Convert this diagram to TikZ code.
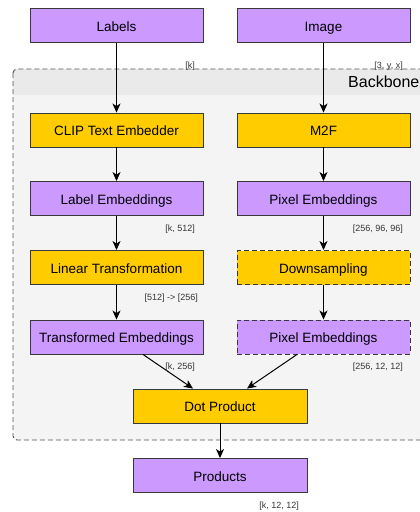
\documentclass[tikz,border=0pt]{standalone}
\usepackage{fontspec}
\setmainfont{Liberation Sans}
\usetikzlibrary{arrows.meta}
\definecolor{purp}{HTML}{CC99FF}
\definecolor{gold}{HTML}{FFCC00}
\definecolor{edge}{HTML}{36393D}
\definecolor{bgray}{HTML}{F4F4F4}
\definecolor{hgray}{HTML}{EAEAEA}
\definecolor{dgray}{HTML}{505050}
\definecolor{lbl}{HTML}{333333}
\tikzset{
  box/.style={draw=edge, line width=0.9pt, minimum width=173pt, minimum height=34pt, inner sep=0pt, text height=11pt, text depth=0pt, font=\fontsize{13.5}{15}\selectfont, text=black},
  pbox/.style={box, fill=purp},
  ybox/.style={box, fill=gold},
  dbox/.style={dash pattern=on 5pt off 3pt},
  dim/.style={font=\fontsize{9}{10}\selectfont, text=lbl, anchor=east, inner sep=0pt},
  conn/.style={line width=1pt, -{Stealth[length=9pt, width=8pt, inset=2.5pt]}},
}
\begin{document}
\begin{tikzpicture}[x=1pt, y=-1pt]
\useasboundingbox (0,0) rectangle (420,512);
\clip (0,0) rectangle (420,512);
% container
\fill[bgray, rounded corners=4pt] (13,69) rectangle (440,440);
\begin{scope}
\clip[rounded corners=4pt] (13,69) rectangle (440,440);
\fill[hgray] (13,69) rectangle (440,95);
\end{scope}
\draw[dgray, line width=0.9pt, dash pattern=on 5pt off 3pt, rounded corners=4pt] (13,69) rectangle (440,440);
\node[anchor=west, inner sep=0pt, font=\fontsize{16}{18}\selectfont, text=black] (bb) at (348,82) {Backbone};
% nodes
\node[pbox] (labels) at (116.5,25.5) {Labels};
\node[pbox] (image) at (323.5,25.5) {Image};
\node[ybox] (clip) at (116.5,130) {CLIP Text Embedder};
\node[ybox] (m2f) at (323.5,130) {M2F};
\node[pbox] (labemb) at (116.5,198.5) {Label Embeddings};
\node[pbox] (pixemb) at (323.5,198.5) {Pixel Embeddings};
\node[ybox] (lin) at (116.5,267.5) {Linear Transformation};
\node[ybox, dbox] (down) at (323.5,267.5) {Downsampling};
\node[pbox] (trans) at (116.5,337) {Transformed Embeddings};
\node[pbox, dbox] (pixemb2) at (323.5,337) {Pixel Embeddings};
\node[ybox, minimum width=174pt] (dot) at (220,406) {Dot Product};
\node[pbox, minimum width=174pt] (prod) at (220,475.5) {Products};
% connectors
\draw[conn] (labels) -- (clip);
\draw[conn] (image) -- (m2f);
\draw[conn] (clip) -- (labemb);
\draw[conn] (m2f) -- (pixemb);
\draw[conn] (labemb) -- (lin);
\draw[conn] (pixemb) -- (down);
\draw[conn] (lin) -- (trans);
\draw[conn] (down) -- (pixemb2);
\draw[conn] ([xshift=26.5pt]trans.south) -- ([xshift=-27pt]dot.north);
\draw[conn] ([xshift=-26.5pt]pixemb2.south) -- ([xshift=27pt]dot.north);
\draw[conn] (dot) -- (prod);
% dimension labels
\node[dim] (d1) at (195,66) {[k]};
\node[dim] (d2) at (403,66) {[3, y, x]};
\node[dim] (d3) at (195,229) {[k, 512]};
\node[dim] (d4) at (403,229) {[256, 96, 96]};
\node[dim] (d5) at (198,298) {[512] -> [256]};
\node[dim] (d6) at (195,367) {[k, 256]};
\node[dim] (d7) at (403,367) {[256, 12, 12]};
\node[dim] (d8) at (299,506) {[k, 12, 12]};
\end{tikzpicture}
\end{document}
